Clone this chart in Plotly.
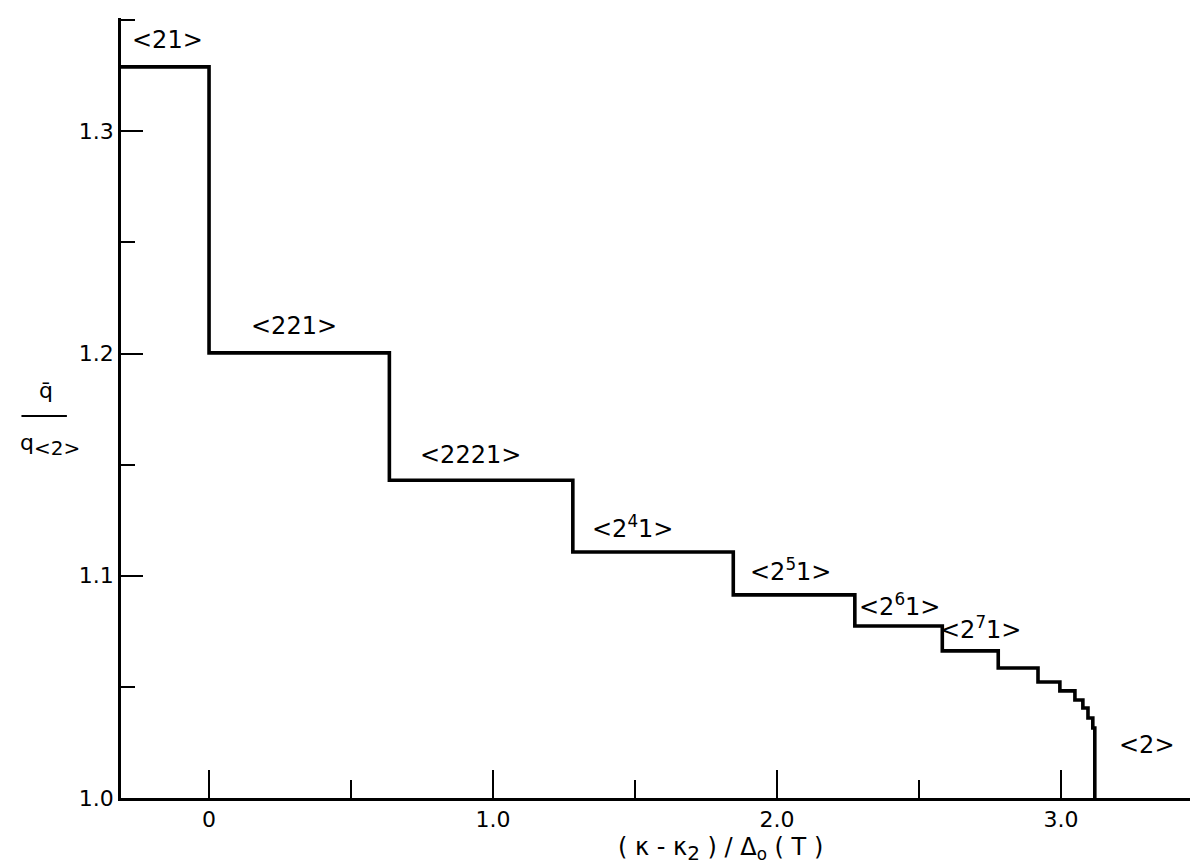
import plotly.graph_objects as go

# Staircase: left edge of each plateau (x) and its level (y); drawn with hv steps
step_x = [-0.31, 0.0, 0.635, 1.281, 1.846, 2.274, 2.582, 2.779, 2.919, 2.996, 3.049, 3.077, 3.095, 3.112, 3.119]
step_y = [1.329, 1.2003, 1.143, 1.1107, 1.0914, 1.0774, 1.0662, 1.0585, 1.0522, 1.0482, 1.0441, 1.0405, 1.036, 1.0315, 1.0]

# Phase labels
phase_text = ["&lt;21&gt;", "&lt;221&gt;", "&lt;2221&gt;", "&lt;2<sup>4</sup>1&gt;", "&lt;2<sup>5</sup>1&gt;",
              "&lt;2<sup>6</sup>1&gt;", "&lt;2<sup>7</sup>1&gt;", "&lt;2&gt;"]
phase_x = [-0.147, 0.298, 0.919, 1.49, 2.049, 2.432, 2.716, 3.302]
phase_y = [1.3411, 1.2124, 1.1544, 1.1219, 1.1026, 1.0869, 1.0765, 1.0239]

x_tickvals = [0, 1, 2, 3]
x_ticktext = ["0", "1.0", "2.0", "3.0"]
y_tickvals = [1.0, 1.1, 1.2, 1.3]
y_ticktext = ["1.0", "1.1", "1.2", "1.3"]

FONT = "DejaVu Sans"

fig = go.Figure()
fig.add_trace(go.Scatter(x=step_x, y=step_y, mode="lines", line_shape="hv",
                         line=dict(color="black", width=3.6), hoverinfo="skip"))

for t, x, y in zip(phase_text, phase_x, phase_y):
    fig.add_annotation(x=x, y=y, text=t, showarrow=False,
                       font=dict(family=FONT, size=24, color="black"),
                       xanchor="center", yanchor="middle")

# x-axis title
fig.add_annotation(x=1.80, y=-0.066, xref="x", yref="paper",
                   text="( κ - κ<sub><span style='font-size:20px'>2</span></sub> ) / Δ<sub>o</sub> ( T )",
                   showarrow=False,
                   font=dict(family=FONT, size=24, color="black"),
                   xanchor="center", yanchor="middle")

# y-axis title as a fraction
fig.add_annotation(x=-0.069, y=0.522, xref="paper", yref="paper",
                   text="q\u0304", showarrow=False,
                   font=dict(family=FONT, size=22, color="black"),
                   xanchor="center", yanchor="middle")
fig.add_shape(type="line", xref="paper", yref="paper",
              x0=-0.092, x1=-0.05, y0=0.4897, y1=0.4897,
              line=dict(color="black", width=2))
fig.add_annotation(x=-0.066, y=0.452, xref="paper", yref="paper",
                   text="q<sub><span style='font-size:20px'>&lt;2&gt;</span></sub>", showarrow=False,
                   font=dict(family=FONT, size=22, color="black"),
                   xanchor="center", yanchor="middle")

fig.update_layout(
    width=1198, height=865,
    margin=dict(l=113, r=3, t=10, b=75),
    paper_bgcolor="white", plot_bgcolor="white",
    showlegend=False,
    font=dict(family=FONT, size=22, color="black"),
)
fig.update_xaxes(range=[-0.31, 3.5], showgrid=False, zeroline=False,
                 showline=True, linecolor="black", linewidth=2.5,
                 ticks="inside", ticklen=28, tickwidth=2, tickcolor="black",
                 tickvals=x_tickvals, ticktext=x_ticktext,
                 tickfont=dict(family=FONT, size=22, color="black"),
                 minor=dict(dtick=0.5, tick0=0, ticks="inside", ticklen=18,
                            tickwidth=2, tickcolor="black", showgrid=False))
fig.update_yaxes(range=[1.0, 1.351], showgrid=False, zeroline=False,
                 showline=True, linecolor="black", linewidth=2.5,
                 ticks="inside", ticklen=22, tickwidth=2, tickcolor="black",
                 tickvals=y_tickvals, ticktext=y_ticktext,
                 tickfont=dict(family=FONT, size=22, color="black"),
                 minor=dict(dtick=0.05, tick0=1.0, ticks="inside", ticklen=14,
                            tickwidth=2, tickcolor="black", showgrid=False))

fig.write_html("out.html")
